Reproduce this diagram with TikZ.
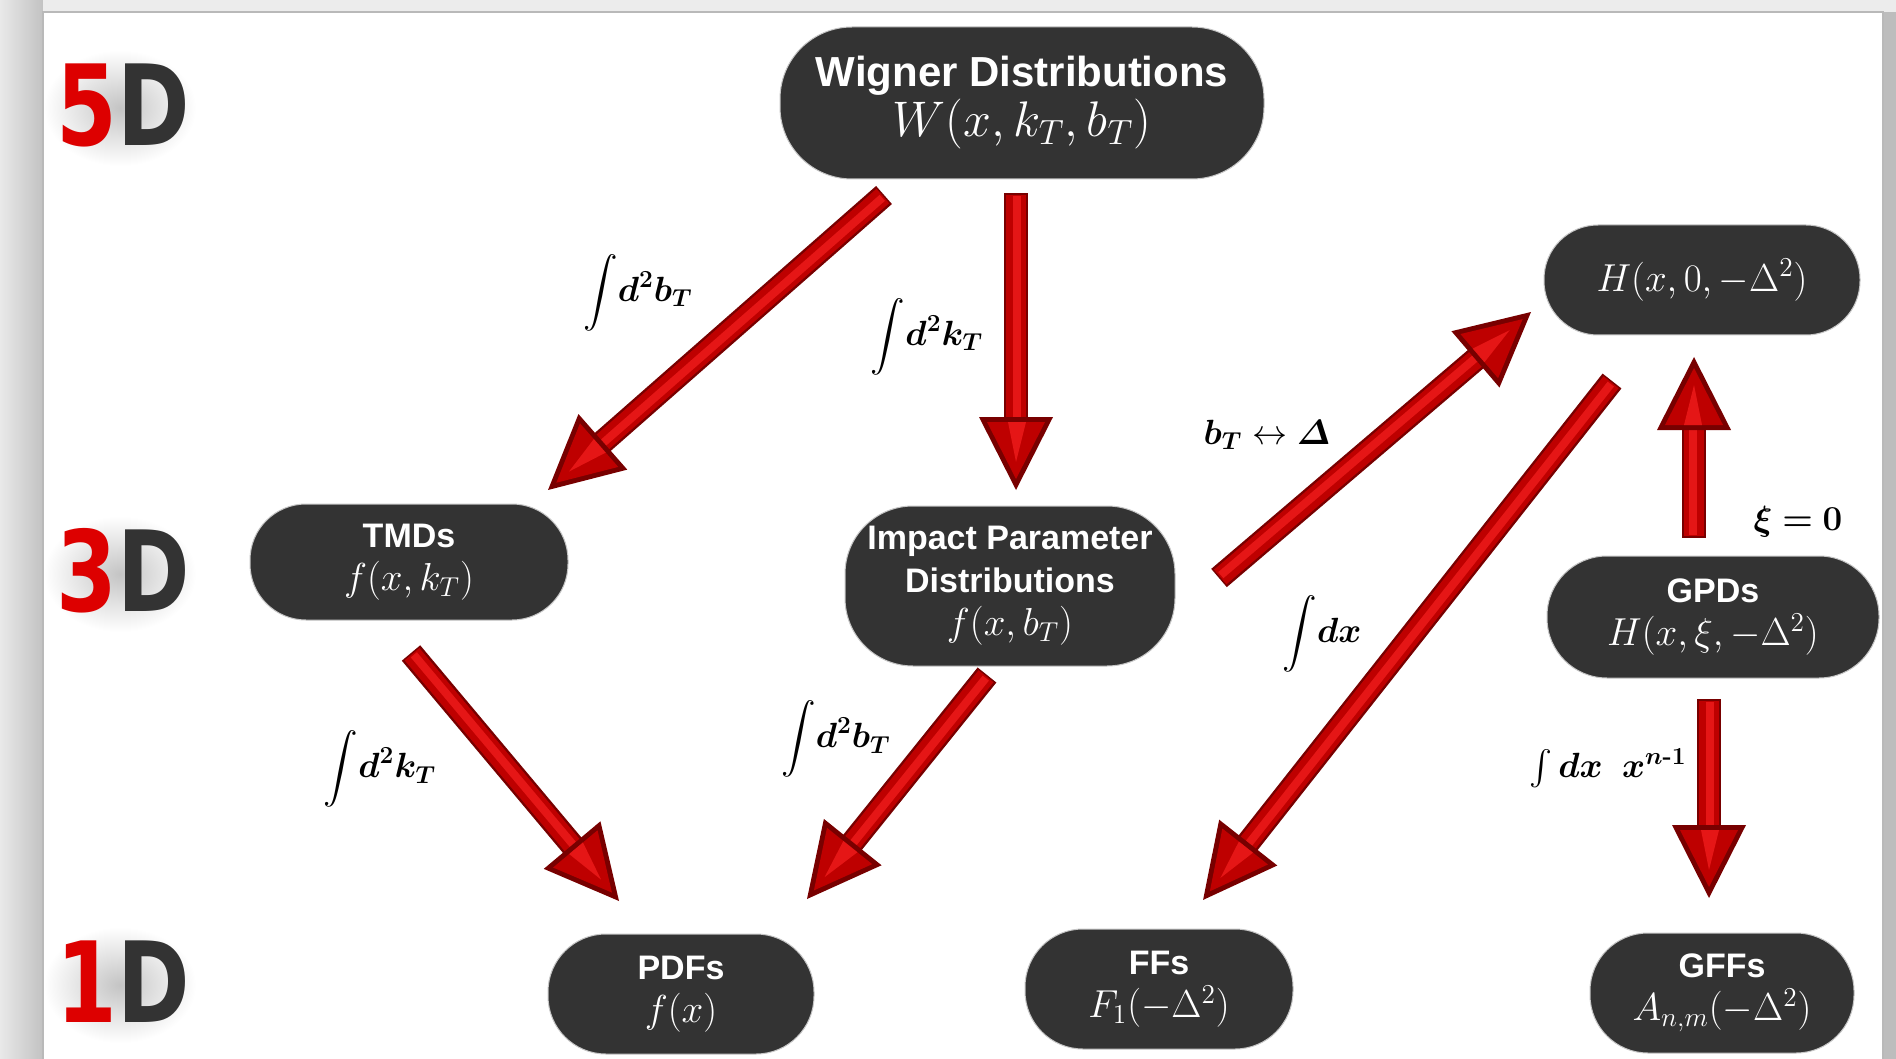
\RequirePackage{fix-cm}
\documentclass[tikz,border=0pt]{standalone}
\usepackage{amsmath,bm}
\usepackage{graphicx}
\usepackage{fontspec}
\newfontfamily\helv{Liberation Sans}
\newfontfamily\dimfont{DejaVu Sans}
\usetikzlibrary{calc}

\definecolor{boxgray}{HTML}{333333}
\definecolor{ardark}{HTML}{780000}
\definecolor{armid}{HTML}{BE0000}
\definecolor{arbright}{HTML}{E51616}
\definecolor{digred}{HTML}{DD0000}
\definecolor{dgray}{HTML}{333333}
\definecolor{glow}{HTML}{C4C4C4}
\definecolor{bgleft}{HTML}{E9E9E9}
\definecolor{bgedge}{HTML}{C2C2C2}
\definecolor{bgtop}{HTML}{ECECEC}
\definecolor{bgright}{HTML}{BDBDBD}

\newcommand\redarrow[2]{%
  \pgfpointdiff{\pgfpointanchor{#1}{center}}{\pgfpointanchor{#2}{center}}%
  \pgfgetlastxy{\ardx}{\ardy}%
  \pgfmathsetmacro\arang{atan2(\ardy,\ardx)}%
  \pgfmathsetmacro\arlen{veclen(\ardx,\ardy)}%
  \pgfmathsetmacro\arbase{\arlen-36.5}%
  \begin{scope}[shift={(#1)}, rotate=\arang, x=1pt, y=1pt]
    \fill[ardark] (0,-6) rectangle (\arbase+2,6);
    \fill[armid] (0.8,-4.8) rectangle (\arbase+2,4.8);
    \fill[arbright] (1.6,-1.5) rectangle (\arbase+2,2.5);
    \fill[ardark] (\arbase,-18.5) -- (\arlen,0) -- (\arbase,18.5) -- cycle;
    \fill[armid] (\arbase+2.5,-14.5) -- (\arlen-5.5,0) -- (\arbase+2.5,14.5) -- cycle;
    \fill[arbright] (\arbase+2.5,-4) -- (\arlen-14,0) -- (\arbase+2.5,5) -- cycle;
  \end{scope}}

\newcommand\dimword[1]{\scalebox{0.78}[1]{\textcolor{digred}{#1}\textcolor{dgray}{D}}}
\newcommand\nmath[1]{{\fontsize{19.5}{22.5}\selectfont$#1$}}

\tikzset{
  box/.style={fill=boxgray, draw=gray!45, line width=0.5pt, text=white, align=center, inner sep=0pt},
  boxtext/.style={font=\helv\bfseries\fontsize{17}{21.5}\selectfont},
  lbl/.style={text=black, inner sep=0pt, font=\fontsize{17.5}{20}\selectfont},
  dimlbl/.style={inner sep=0pt, font=\dimfont\bfseries\fontsize{56}{60}\selectfont},
  glowblob/.style={inner color=glow, outer color=white},
}

\begin{document}
\begin{tikzpicture}[x=0.5pt, y=-0.5pt]
\useasboundingbox (0,0) rectangle (1896,1059);
% background
\shade[left color=bgleft, right color=bgedge] (0,0) rectangle (43,1059);
\fill[bgtop] (43,0) rectangle (1896,12);
\fill[bgright] (1883,12) rectangle (1896,1059);
\fill[white] (43,12) rectangle (1883,1059);

% soft glow behind the dimension labels, kept inside the page
\begin{scope}
  \clip (44,13) rectangle (1882,1059);
  \shade[glowblob] (120,108) ellipse [x radius=76, y radius=58];
  \shade[glowblob] (120,574) ellipse [x radius=76, y radius=58];
  \shade[glowblob] (120,985) ellipse [x radius=76, y radius=58];
\end{scope}
\draw[gray!55, line width=0.6pt] (43,1059) -- (43,12) -- (1883,12) -- (1883,1059);

\node[dimlbl] (d5) at (123,105) {\dimword{5}};
\node[dimlbl] (d3) at (123,571) {\dimword{3}};
\node[dimlbl] (d1) at (123,982) {\dimword{1}};

% nodes
\node[box, minimum width=242pt, minimum height=76pt, rounded corners=36pt,
      font=\helv\bfseries\fontsize{21}{25}\selectfont] (wig) at (1022,103)
      {Wigner Distributions\\ {\fontsize{25}{27}\selectfont$W(x,k_T,b_T)$}};
\node[box, boxtext, minimum width=159pt, minimum height=58pt, rounded corners=28pt] (tmd) at (409,562)
      {TMDs\\ \nmath{f(x,k_T)}};
\node[box, boxtext, minimum width=165pt, minimum height=80pt, rounded corners=34pt] (ipd) at (1010,586)
      {Impact Parameter\\ Distributions\\ \nmath{f(x,b_T)}};
\node[box, minimum width=158pt, minimum height=55pt, rounded corners=27pt] (hx0) at (1702,280)
      {\nmath{H(x,0,-\Delta^2)}};
\node[box, boxtext, minimum width=166pt, minimum height=61pt, rounded corners=30pt] (gpd) at (1713,617)
      {GPDs\\ \nmath{H(x,\xi,-\Delta^2)}};
\node[box, boxtext, minimum width=133pt, minimum height=60pt, rounded corners=29pt] (pdf) at (681,994)
      {PDFs\\ \nmath{f(x)}};
\node[box, boxtext, minimum width=134pt, minimum height=60pt, rounded corners=29pt] (ffs) at (1159,989)
      {FFs\\ \nmath{F_1(-\Delta^2)}};
\node[box, boxtext, minimum width=132pt, minimum height=60pt, rounded corners=29pt] (gff) at (1722,993)
      {GFFs\\ \nmath{A_{n,m}(-\Delta^2)}};

% arrow end points
\coordinate (a1t) at (884,195);  \coordinate (a1h) at (548,490);
\coordinate (a2t) at (1016,193); \coordinate (a2h) at (1016,490);
\coordinate (a3t) at (1219,578); \coordinate (a3h) at (1531,312);
\coordinate (a4t) at (1612,381); \coordinate (a4h) at (1203,900);
\coordinate (a5t) at (1694,538); \coordinate (a5h) at (1694,357);
\coordinate (a6t) at (411,653);  \coordinate (a6h) at (619,901);
\coordinate (a7t) at (987,675);  \coordinate (a7h) at (807,899);
\coordinate (a8t) at (1709,699); \coordinate (a8h) at (1709,898);

\redarrow{a1t}{a1h}
\redarrow{a2t}{a2h}
\redarrow{a3t}{a3h}
\redarrow{a4t}{a4h}
\redarrow{a5t}{a5h}
\redarrow{a6t}{a6h}
\redarrow{a7t}{a7h}
\redarrow{a8t}{a8h}

% labels
\node[lbl] (l1) at (638,293) {$\displaystyle\int\!\bm{d^2b_T}$};
\node[lbl] (l2) at (927,337) {$\displaystyle\int\!\bm{d^2k_T}$};
\node[lbl] (l3) at (1267,435) {$\bm{b_T}\leftrightarrow\bm{\varDelta}$};
\node[lbl] (l4) at (1798,522) {$\bm{\xi=0}$};
\node[lbl] (l5) at (1322,634) {$\displaystyle\int\!\bm{dx}$};
\node[lbl] (l6) at (380,769) {$\displaystyle\int\!\bm{d^2k_T}$};
\node[lbl] (l7) at (836,739) {$\displaystyle\int\!\bm{d^2b_T}$};
\node[lbl] (l8) at (1608,768) {$\int\bm{dx}\;\;\bm{x}^{\bm{n}\textbf{-1}}$};
\end{tikzpicture}
\end{document}
